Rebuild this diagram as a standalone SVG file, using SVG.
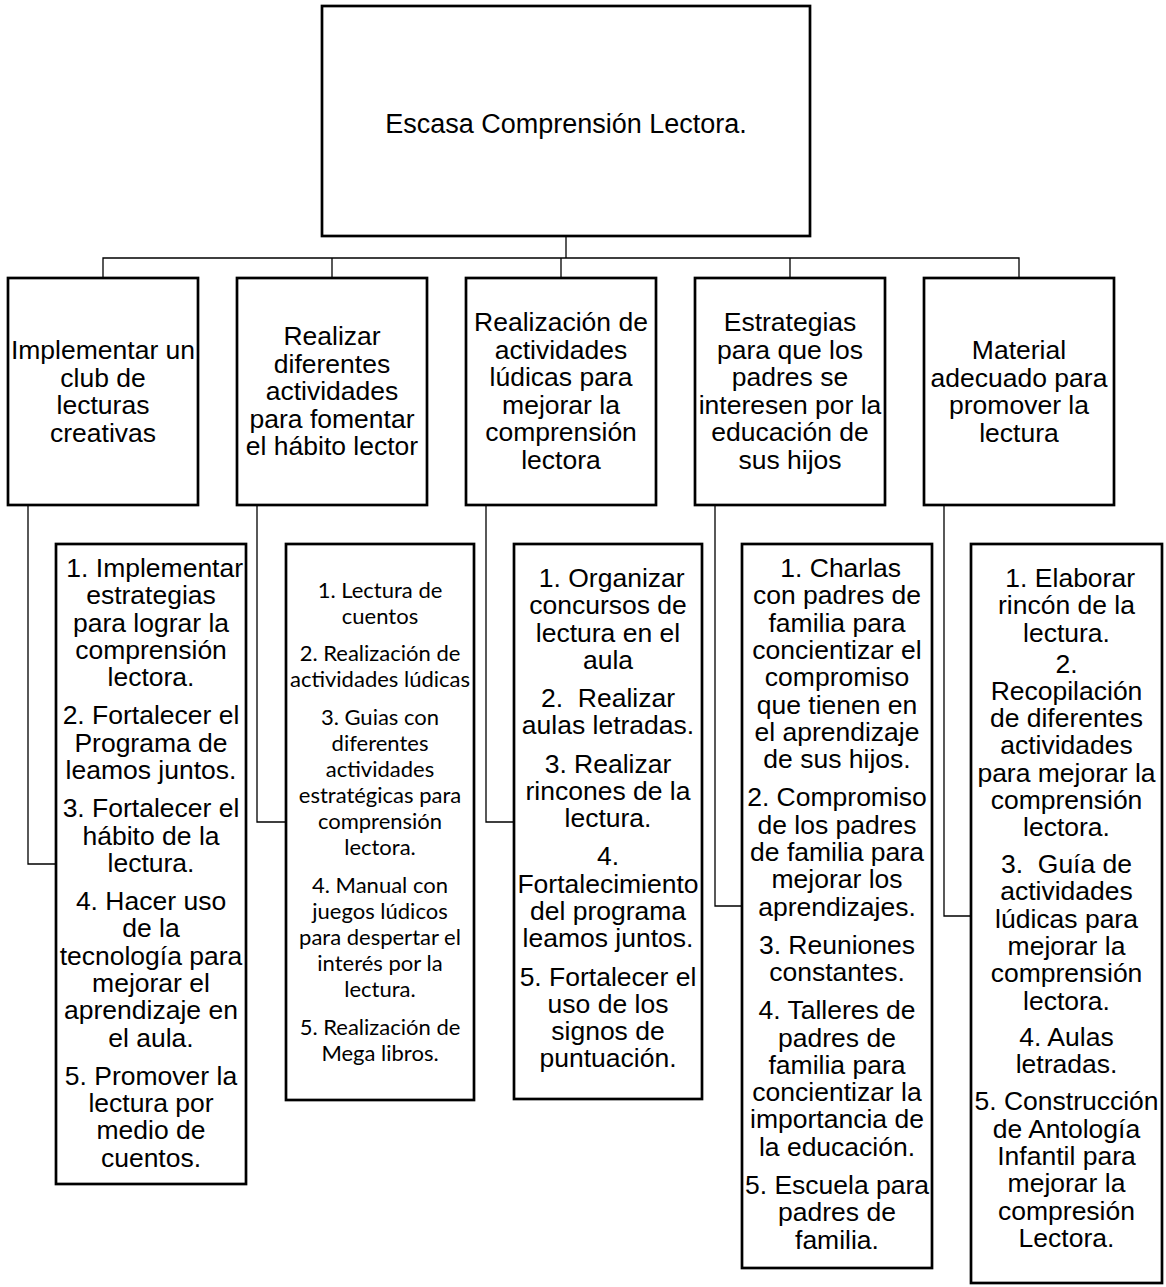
<svg xmlns="http://www.w3.org/2000/svg" width="1166" height="1287" viewBox="0 0 1166 1287">
<style>
.box{fill:#fff;stroke:#000;stroke-width:2.7}
.conn{fill:none;stroke:#000;stroke-width:1.3}
.t{font-family:"Liberation Sans",Arial,sans-serif;font-size:26.5px;text-anchor:middle;white-space:pre;fill:#000}
.c{font-family:Lato,"Open Sans",sans-serif;font-size:22px;text-anchor:middle;white-space:pre;fill:#000}
</style>
<rect width="1166" height="1287" fill="#fff"/>
<g id="connectors">
<path class="conn" d="M566 236V258" stroke-width="2"/>
<path class="conn" d="M103 278V258H1019V278M332 258V278M561 258V278M790 258V278"/>
<path class="conn" d="M28 505V864H56"/>
<path class="conn" d="M257 505V822H286"/>
<path class="conn" d="M486 505V822H514"/>
<path class="conn" d="M715 505V906H742"/>
<path class="conn" d="M944 505V916H971"/>
</g>
<g id="root">
<rect class="box" x="322" y="6" width="488" height="230"/>
<text class="t" x="566" y="133" style="font-size:27px">Escasa Comprensión Lectora.</text>
</g>
<g id="n1">
<rect class="box" x="8" y="278" width="190" height="227"/>
<text class="t"><tspan x="103" y="359">Implementar un</tspan><tspan x="103" y="386.5">club de</tspan><tspan x="103" y="414">lecturas</tspan><tspan x="103" y="441.5">creativas</tspan></text>
</g>
<g id="n2">
<rect class="box" x="237" y="278" width="190" height="227"/>
<text class="t"><tspan x="332" y="345">Realizar</tspan><tspan x="332" y="372.5">diferentes</tspan><tspan x="332" y="400">actividades</tspan><tspan x="332" y="427.5">para fomentar</tspan><tspan x="332" y="455">el hábito lector</tspan></text>
</g>
<g id="n3">
<rect class="box" x="466" y="278" width="190" height="227"/>
<text class="t"><tspan x="561" y="331">Realización de</tspan><tspan x="561" y="358.5">actividades</tspan><tspan x="561" y="386">lúdicas para</tspan><tspan x="561" y="413.5">mejorar la</tspan><tspan x="561" y="441">comprensión</tspan><tspan x="561" y="468.5">lectora</tspan></text>
</g>
<g id="n4">
<rect class="box" x="695" y="278" width="190" height="227"/>
<text class="t"><tspan x="790" y="331">Estrategias</tspan><tspan x="790" y="358.5">para que los</tspan><tspan x="790" y="386">padres se</tspan><tspan x="790" y="413.5">interesen por la</tspan><tspan x="790" y="441">educación de</tspan><tspan x="790" y="468.5">sus hijos</tspan></text>
</g>
<g id="n5">
<rect class="box" x="924" y="278" width="190" height="227"/>
<text class="t"><tspan x="1019" y="359">Material</tspan><tspan x="1019" y="386.5">adecuado para</tspan><tspan x="1019" y="414">promover la</tspan><tspan x="1019" y="441.5">lectura</tspan></text>
</g>
<g id="d1">
<rect class="box" x="56" y="544" width="190" height="640"/>
<text class="t"><tspan x="151" y="577"> 1. Implementar</tspan><tspan x="151" y="604.3">estrategias</tspan><tspan x="151" y="631.6">para lograr la</tspan><tspan x="151" y="658.9">comprensión</tspan><tspan x="151" y="686.2">lectora.</tspan><tspan x="151" y="724.4">2. Fortalecer el</tspan><tspan x="151" y="751.7">Programa de</tspan><tspan x="151" y="779">leamos juntos.</tspan><tspan x="151" y="817.2">3. Fortalecer el</tspan><tspan x="151" y="844.5">hábito de la</tspan><tspan x="151" y="871.8">lectura.</tspan><tspan x="151" y="910">4. Hacer uso</tspan><tspan x="151" y="937.3">de la</tspan><tspan x="151" y="964.6">tecnología para</tspan><tspan x="151" y="991.9">mejorar el</tspan><tspan x="151" y="1019.2">aprendizaje en</tspan><tspan x="151" y="1046.5">el aula.</tspan><tspan x="151" y="1084.7">5. Promover la</tspan><tspan x="151" y="1112">lectura por</tspan><tspan x="151" y="1139.3">medio de</tspan><tspan x="151" y="1166.6">cuentos.</tspan></text>
</g>
<g id="d2">
<rect class="box" x="286" y="544" width="188" height="556"/>
<text class="c"><tspan x="380" y="597.5">1. Lectura de</tspan><tspan x="380" y="623.5">cuentos</tspan><tspan x="380" y="661.3">2. Realización de</tspan><tspan x="380" y="687.3">actividades lúdicas</tspan><tspan x="380" y="725">3. Guias con</tspan><tspan x="380" y="751">diferentes</tspan><tspan x="380" y="777">actividades</tspan><tspan x="380" y="803">estratégicas para</tspan><tspan x="380" y="829">comprensión</tspan><tspan x="380" y="855">lectora.</tspan><tspan x="380" y="892.8">4. Manual con</tspan><tspan x="380" y="918.8">juegos lúdicos</tspan><tspan x="380" y="944.8">para despertar el</tspan><tspan x="380" y="970.8">interés por la</tspan><tspan x="380" y="996.8">lectura.</tspan><tspan x="380" y="1034.5">5. Realización de</tspan><tspan x="380" y="1060.5">Mega libros.</tspan></text>
</g>
<g id="d3">
<rect class="box" x="514" y="544" width="188" height="555"/>
<text class="t"><tspan x="608" y="587"> 1. Organizar</tspan><tspan x="608" y="614.3">concursos de</tspan><tspan x="608" y="641.6">lectura en el</tspan><tspan x="608" y="668.9">aula</tspan><tspan x="608" y="707.1">2.  Realizar</tspan><tspan x="608" y="734.4">aulas letradas.</tspan><tspan x="608" y="772.6">3. Realizar</tspan><tspan x="608" y="799.9">rincones de la</tspan><tspan x="608" y="827.2">lectura.</tspan><tspan x="608" y="865.4">4.</tspan><tspan x="608" y="892.7">Fortalecimiento</tspan><tspan x="608" y="920">del programa</tspan><tspan x="608" y="947.3">leamos juntos.</tspan><tspan x="608" y="985.5">5. Fortalecer el</tspan><tspan x="608" y="1012.8">uso de los</tspan><tspan x="608" y="1040.1">signos de</tspan><tspan x="608" y="1067.4">puntuación.</tspan></text>
</g>
<g id="d4">
<rect class="box" x="742" y="544" width="190" height="724"/>
<text class="t"><tspan x="837" y="577"> 1. Charlas</tspan><tspan x="837" y="604.3">con padres de</tspan><tspan x="837" y="631.6">familia para</tspan><tspan x="837" y="658.9">concientizar el</tspan><tspan x="837" y="686.2">compromiso</tspan><tspan x="837" y="713.5">que tienen en</tspan><tspan x="837" y="740.8">el aprendizaje</tspan><tspan x="837" y="768.1">de sus hijos.</tspan><tspan x="837" y="806.3">2. Compromiso</tspan><tspan x="837" y="833.6">de los padres</tspan><tspan x="837" y="860.9">de familia para</tspan><tspan x="837" y="888.2">mejorar los</tspan><tspan x="837" y="915.5">aprendizajes.</tspan><tspan x="837" y="953.7">3. Reuniones</tspan><tspan x="837" y="981">constantes.</tspan><tspan x="837" y="1019.2">4. Talleres de</tspan><tspan x="837" y="1046.5">padres de</tspan><tspan x="837" y="1073.8">familia para</tspan><tspan x="837" y="1101.1">concientizar la</tspan><tspan x="837" y="1128.4">importancia de</tspan><tspan x="837" y="1155.7">la educación.</tspan><tspan x="837" y="1193.9">5. Escuela para</tspan><tspan x="837" y="1221.2">padres de</tspan><tspan x="837" y="1248.5">familia.</tspan></text>
</g>
<g id="d5">
<rect class="box" x="971" y="544" width="191" height="739"/>
<text class="t"><tspan x="1066.5" y="587"> 1. Elaborar</tspan><tspan x="1066.5" y="614.3">rincón de la</tspan><tspan x="1066.5" y="641.6">lectura.</tspan><tspan x="1066.5" y="672.5">2.</tspan><tspan x="1066.5" y="699.8">Recopilación</tspan><tspan x="1066.5" y="727.1">de diferentes</tspan><tspan x="1066.5" y="754.4">actividades</tspan><tspan x="1066.5" y="781.7">para mejorar la</tspan><tspan x="1066.5" y="809">comprensión</tspan><tspan x="1066.5" y="836.3">lectora.</tspan><tspan x="1066.5" y="873">3.  Guía de</tspan><tspan x="1066.5" y="900.3">actividades</tspan><tspan x="1066.5" y="927.6">lúdicas para</tspan><tspan x="1066.5" y="954.9">mejorar la</tspan><tspan x="1066.5" y="982.2">comprensión</tspan><tspan x="1066.5" y="1009.5">lectora.</tspan><tspan x="1066.5" y="1046">4. Aulas</tspan><tspan x="1066.5" y="1073.3">letradas.</tspan><tspan x="1066.5" y="1110.4">5. Construcción</tspan><tspan x="1066.5" y="1137.7">de Antología</tspan><tspan x="1066.5" y="1165">Infantil para</tspan><tspan x="1066.5" y="1192.3">mejorar la</tspan><tspan x="1066.5" y="1219.6">compresión</tspan><tspan x="1066.5" y="1246.9">Lectora.</tspan></text>
</g>
</svg>
